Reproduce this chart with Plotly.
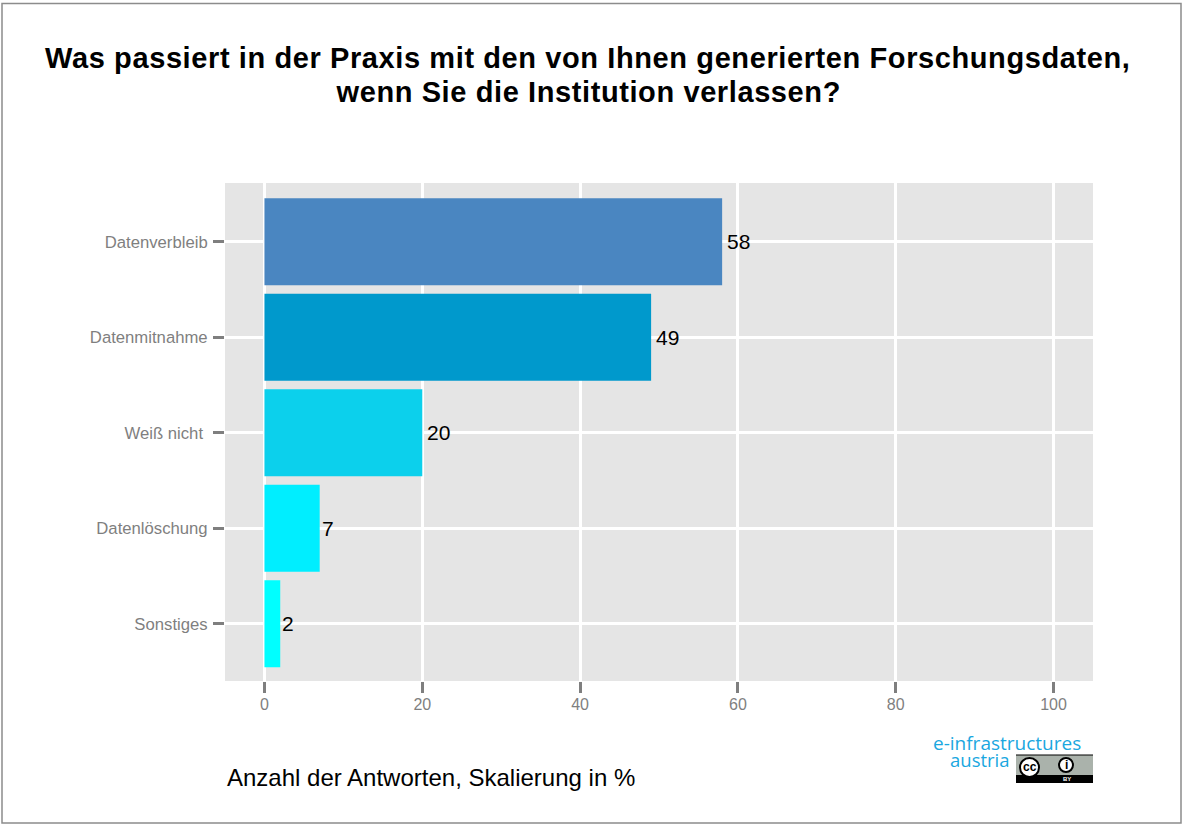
import plotly.graph_objects as go

categories = ["Datenverbleib", "Datenmitnahme", "Weiß nicht\u00a0", "Datenlöschung", "Sonstiges"]
values = [58, 49, 20, 7, 2]
bar_colors = ["#4a86c1", "#0099cc", "#0cd0ec", "#00eeff", "#00ffff"]
x_ticks = [0, 20, 40, 60, 80, 100]

title_lines = ["Was passiert in der Praxis mit den von Ihnen generierten Forschungsdaten,",
               "wenn Sie die Institution verlassen?"]
footer = "Anzahl der Antworten, Skalierung in %"

W, H = 1182, 825
LEFT, RIGHT, TOP, BOTTOM = 225, 1093, 183, 681
FONT = "Liberation Sans"
GREY = "#7f7f7f"


# pixel position -> paper coordinates (paper is the plot area in plotly)
def px(x):
    return (x - LEFT) / (RIGHT - LEFT)


def py(y):
    return 1 - (y - TOP) / (BOTTOM - TOP)


def box(x0, x1, y0, y1, **kw):
    return dict(type=kw.pop("type", "rect"), xref="paper", yref="paper",
                x0=px(x0), x1=px(x1), y0=py(y0), y1=py(y1), **kw)


fig = go.Figure(go.Bar(
    x=values,
    y=categories,
    orientation="h",
    width=0.91,
    marker=dict(color=bar_colors, line=dict(width=0)),
))

shapes = [
    # outer frame
    box(2, 1181, 3.5, 823, line=dict(color="#8c8c8c", width=1.5), layer="below"),
    # cc badge
    box(1016, 1093, 755, 775, fillcolor="#aab2ab", line=dict(width=0)),
    box(1016, 1093, 775, 783, fillcolor="black", line=dict(width=0)),
    box(1016, 1093, 755, 755, type="line", line=dict(color="black", width=1)),
    box(1020, 1039, 758, 777, type="circle", fillcolor="white", line=dict(color="black", width=2)),
    box(1059, 1073, 758, 772, type="circle", fillcolor="white", line=dict(color="black", width=2)),
]


def note(x, y, text, size, color, anchor="left", family=FONT):
    return dict(xref="paper", yref="paper", x=px(x), y=py(y), text=text, showarrow=False,
                xanchor=anchor, yanchor="middle", align="center",
                font=dict(family=family, size=size, color=color))


annotations = [
    note(588, 58, "<b>" + title_lines[0] + "</b>", 29, "black", "center"),
    note(588, 92, "<b>" + title_lines[1] + "</b>", 29, "black", "center"),
    note(224.5, 777, footer, 24, "black"),
    note(1083, 743, "e-infrastructures", 19, "#1aa7e0", "right", "Open Sans"),
    note(1012, 759, "austria", 18.5, "#1aa7e0", "right", "Open Sans"),
    note(1029.5, 767, "<b>cc</b>", 12, "black", "center"),
    note(1066, 765, "<b>i</b>", 12, "black", "center"),
    note(1066.5, 779, "<b>BY</b>", 6, "white", "center"),
]

# value labels sit a little off the bar end, more for two digits
for cat, val in zip(categories, values):
    annotations.append(dict(
        x=val, y=cat, text=str(val), showarrow=False, xanchor="left", yanchor="middle",
        xshift=3 if val >= 10 else 0,
        font=dict(family=FONT, size=21, color="black"),
    ))

fig.update_layout(
    width=W,
    height=H,
    margin=dict(l=LEFT, r=W - RIGHT, t=TOP, b=H - BOTTOM, autoexpand=False),
    paper_bgcolor="white",
    plot_bgcolor="#e5e5e5",
    showlegend=False,
    shapes=shapes,
    annotations=annotations,
)
fig.update_xaxes(
    range=[-5, 105],
    tickvals=x_ticks,
    showgrid=True,
    gridcolor="white",
    gridwidth=3,
    zeroline=False,
    showline=False,
    ticks="outside",
    ticklen=11,
    tickwidth=3,
    tickcolor=GREY,
    tickfont=dict(family=FONT, size=16, color=GREY),
    ticklabelstandoff=-2,
)
fig.update_yaxes(
    categoryorder="array",
    categoryarray=categories[::-1],
    range=[-0.6, 4.615],
    showgrid=True,
    gridcolor="white",
    gridwidth=3,
    zeroline=False,
    showline=False,
    ticks="outside",
    ticklen=11,
    tickwidth=3,
    tickcolor=GREY,
    tickfont=dict(family=FONT, size=16.7, color=GREY),
    ticklabelstandoff=2,
)

# the title in the reference is tracked out, plotly fonts have no letter spacing
post = """document.body.style.margin='0';
var notes = document.querySelectorAll('.annotation-text');
notes[0].style.letterSpacing = '0.6px';
notes[1].style.letterSpacing = '0.6px';
"""
fig.write_html("out.html", config=dict(displayModeBar=False), post_script=post)
